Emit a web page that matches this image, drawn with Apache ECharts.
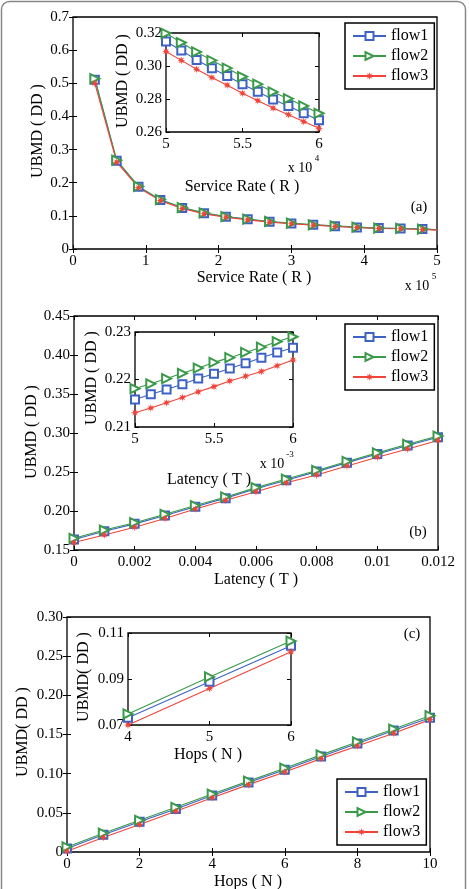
<!DOCTYPE html>
<html>
<head>
<meta charset="utf-8">
<script src="https://cdn.jsdelivr.net/npm/echarts@6/dist/echarts.min.js"></script>
<style>
  html, body { margin: 0; padding: 0; background: #fff; }
  #chart { width: 469px; height: 889px; }
</style>
</head>
<body>
<div id="chart"></div>
<script>
// (a) service rate, main plot (x in units of 1e5)
const rateX = [0.3, 0.6, 0.9, 1.2, 1.5, 1.8, 2.1, 2.4, 2.7, 3.0, 3.3, 3.6, 3.9, 4.2, 4.5, 4.8]
const rateFlow1 = [0.511, 0.266, 0.188, 0.148, 0.124, 0.108, 0.097, 0.090, 0.082, 0.077, 0.073, 0.069, 0.065, 0.063, 0.062, 0.060]
const rateFlow2 = [0.514, 0.268, 0.189, 0.149, 0.125, 0.109, 0.098, 0.090, 0.083, 0.078, 0.073, 0.070, 0.066, 0.063, 0.062, 0.060]
const rateFlow3 = [0.500, 0.262, 0.185, 0.146, 0.122, 0.106, 0.096, 0.088, 0.081, 0.076, 0.072, 0.068, 0.065, 0.062, 0.061, 0.059]
// line runs on to the right edge without a marker
const rateEndX = 5
const rateEnd = [0.058, 0.0585, 0.057]

// (a) inset (x in units of 1e4)
const rateInX = [5.0, 5.1, 5.2, 5.3, 5.4, 5.5, 5.6, 5.7, 5.8, 5.9, 6.0]
const rateInFlow1 = [0.3149, 0.3094, 0.3037, 0.2986, 0.2940, 0.2889, 0.2844, 0.2797, 0.2757, 0.2714, 0.2671]
const rateInFlow2 = [0.3198, 0.3142, 0.3085, 0.3034, 0.2987, 0.2936, 0.2890, 0.2843, 0.2802, 0.2758, 0.2713]
const rateInFlow3 = [0.3088, 0.3034, 0.2980, 0.2930, 0.2884, 0.2835, 0.2790, 0.2745, 0.2705, 0.2663, 0.2622]

// (b) latency
const latX = [0, 0.001, 0.002, 0.003, 0.004, 0.005, 0.006, 0.007, 0.008, 0.009, 0.010, 0.011, 0.012]
const latFlow1 = [0.1635, 0.1740, 0.1835, 0.1943, 0.2055, 0.2165, 0.2285, 0.2395, 0.2505, 0.2620, 0.2730, 0.2840, 0.2945]
const latFlow2 = [0.1650, 0.1756, 0.1850, 0.1958, 0.2070, 0.2180, 0.2300, 0.2410, 0.2520, 0.2635, 0.2745, 0.2855, 0.2960]
const latFlow3 = [0.1595, 0.1692, 0.1792, 0.1905, 0.2025, 0.2137, 0.2248, 0.2363, 0.2462, 0.2577, 0.2690, 0.2795, 0.2905]

// (b) inset (x in units of 1e-3)
const latInX = [5.0, 5.1, 5.2, 5.3, 5.4, 5.5, 5.6, 5.7, 5.8, 5.9, 6.0]
const latInFlow1 = [0.2158, 0.2169, 0.2179, 0.2190, 0.2202, 0.2212, 0.2223, 0.2234, 0.2246, 0.2257, 0.2267]
const latInFlow2 = [0.2181, 0.2191, 0.2202, 0.2213, 0.2224, 0.2236, 0.2246, 0.2257, 0.2268, 0.2280, 0.2290]
const latInFlow3 = [0.2130, 0.2140, 0.2151, 0.2162, 0.2174, 0.2185, 0.2197, 0.2207, 0.2217, 0.2229, 0.2241]

// (c) hops
const hopX = [0, 1, 2, 3, 4, 5, 6, 7, 8, 9, 10]
const hopFlow1 = [0.0045, 0.0220, 0.0385, 0.0550, 0.0722, 0.0886, 0.1050, 0.1220, 0.1385, 0.1550, 0.1715]
const hopFlow2 = [0.0065, 0.0240, 0.0405, 0.0570, 0.0740, 0.0905, 0.1070, 0.1240, 0.1405, 0.1570, 0.1740]
const hopFlow3 = [0.0010, 0.0185, 0.0350, 0.0520, 0.0692, 0.0860, 0.1020, 0.1192, 0.1353, 0.1515, 0.1690]

// (c) inset
const hopInX = [4, 5, 6]
const hopInFlow1 = [0.0732, 0.0888, 0.1045]
const hopInFlow2 = [0.0748, 0.0909, 0.1065]
const hopInFlow3 = [0.0700, 0.0859, 0.1018]

const flowNames = ['flow1', 'flow2', 'flow3']

const FONT = 'Liberation Serif'
const colors = ['#3d62c4', '#3a9a4a', '#f0443a']

// 8 point asterisk for flow3
const star = (() => {
  let p = 'path://'
  for (let i = 0; i < 16; i++) {
    const r = i % 2 ? 0.42 : 1
    const a = Math.PI * i / 8
    p += (i ? 'L' : 'M') + (r * Math.sin(a)).toFixed(3) + ',' + (-r * Math.cos(a)).toFixed(3) + ' '
  }
  return p + 'Z'
})()
const marks = [
  { symbol: 'emptyRect', rotate: 0, size: 8 },
  { symbol: 'emptyTriangle', rotate: -90, size: 9 },
  { symbol: star, rotate: 0, size: 8 }
]

const grids = []
const xAxis = []
const yAxis = []
const series = []

function addPanel (box, xa, ya) {
  const gi = grids.length
  grids.push({
    left: box[0], top: box[1], width: box[2], height: box[3],
    show: true, borderColor: '#000', borderWidth: 1.3, backgroundColor: '#fff',
    containLabel: false
  })
  const common = {
    type: 'value',
    gridIndex: gi,
    axisLine: { show: false },
    splitLine: { show: false },
    axisTick: { inside: true, length: 4, lineStyle: { color: '#000', width: 1 } }
  }
  const lab = (fmt, margin) => ({
    color: '#000', fontFamily: FONT, fontSize: 15, margin,
    showMinLabel: true, showMaxLabel: true, formatter: fmt
  })
  xAxis.push(Object.assign({}, common, {
    position: 'bottom', min: xa.min, max: xa.max, interval: xa.interval,
    axisLabel: lab(xa.fmt, 5)
  }))
  xAxis.push(Object.assign({}, common, {
    position: 'top', min: xa.min, max: xa.max, interval: xa.interval,
    axisLabel: { show: false }
  }))
  yAxis.push(Object.assign({}, common, {
    position: 'left', min: ya.min, max: ya.max, interval: ya.interval,
    axisLabel: lab(ya.fmt, 4)
  }))
  yAxis.push(Object.assign({}, common, {
    position: 'right', min: ya.min, max: ya.max, interval: ya.interval,
    axisLabel: { show: false }
  }))
  return gi
}

function addLines (gi, xs, flows, tail) {
  flows.forEach((vals, k) => {
    const data = xs.map((x, i) => [x, vals[i]])
    if (tail) data.push({ value: [tail.x, tail.y[k]], symbol: 'none' })
    series.push({
      name: flowNames[k],
      type: 'line',
      xAxisIndex: gi * 2,
      yAxisIndex: gi * 2,
      data,
      symbol: marks[k].symbol,
      symbolRotate: marks[k].rotate,
      symbolSize: marks[k].size,
      showAllSymbol: true,
      lineStyle: { color: colors[k], width: 1.1 },
      itemStyle: { color: colors[k], borderWidth: 1.1 },
      animation: false,
      z: 3 + gi
    })
  })
}

const f2 = v => v.toFixed(2)
const f2z = v => (v === 0 ? '0' : v.toFixed(2))
const plain = v => String(+v.toFixed(4))

// panel (a)
let g = addPanel([73, 17, 364, 232], { min: 0, max: 5, interval: 1, fmt: plain }, { min: 0, max: 0.7, interval: 0.1, fmt: plain })
addLines(g, rateX, [rateFlow1, rateFlow2, rateFlow3], { x: rateEndX, y: rateEnd })
g = addPanel([166, 33, 153, 99], { min: 5, max: 6, interval: 0.5, fmt: plain }, { min: 0.26, max: 0.32, interval: 0.02, fmt: f2 })
addLines(g, rateInX, [rateInFlow1, rateInFlow2, rateInFlow3])

// panel (b)
g = addPanel([74, 316, 364, 234], { min: 0, max: 0.012, interval: 0.002, fmt: plain }, { min: 0.15, max: 0.45, interval: 0.05, fmt: f2 })
addLines(g, latX, [latFlow1, latFlow2, latFlow3])
g = addPanel([135, 332, 158, 95], { min: 5, max: 6, interval: 0.5, fmt: plain }, { min: 0.21, max: 0.23, interval: 0.01, fmt: f2 })
addLines(g, latInX, [latInFlow1, latInFlow2, latInFlow3])

// panel (c)
g = addPanel([67, 617, 363, 235], { min: 0, max: 10, interval: 2, fmt: plain }, { min: 0, max: 0.3, interval: 0.05, fmt: f2z })
addLines(g, hopX, [hopFlow1, hopFlow2, hopFlow3])
g = addPanel([128, 633, 163, 92], { min: 4, max: 6, interval: 1, fmt: plain }, { min: 0.07, max: 0.11, interval: 0.02, fmt: f2 })
addLines(g, hopInX, [hopInFlow1, hopInFlow2, hopInFlow3])

function legendAt (left, top) {
  return {
    left, top,
    orient: 'vertical',
    data: flowNames,
    backgroundColor: '#fff',
    borderColor: '#000',
    borderWidth: 1.5,
    borderRadius: 0,
    padding: [5, 6, 5, 7],
    itemWidth: 33,
    itemHeight: 10,
    itemGap: 4,
    selectedMode: false,
    textStyle: { color: '#000', fontFamily: FONT, fontSize: 16 },
    z: 20
  }
}

function txt (x, y, text, size, rot) {
  return {
    type: 'text', x, y, rotation: rot ? Math.PI / 2 : 0, z: 30,
    style: { text, fill: '#000', fontFamily: FONT, fontSize: size, textAlign: 'center', textVerticalAlign: 'middle' }
  }
}

const graphics = [
  { type: 'rect', shape: { x: 1.5, y: 1.5, width: 464, height: 905, r: 8 }, style: { fill: 'none', stroke: '#888', lineWidth: 1.5 }, z: 0 },
  // (a)
  txt(254, 278, 'Service Rate ( R )', 16),
  txt(38, 131, 'UBMD ( DD )', 16, true),
  txt(417, 286, 'x 10', 14), txt(434, 277, '5', 9),
  txt(242, 187, 'Service Rate ( R )', 16),
  txt(123, 81, 'UBMD ( DD )', 16, true),
  txt(300, 168, 'x 10', 14), txt(317, 159, '4', 9),
  txt(419, 207, '(a)', 15),
  // (b)
  txt(256, 580, 'Latency ( T )', 16),
  txt(32, 432, 'UBMD ( DD )', 16, true),
  txt(209, 480, 'Latency ( T )', 16),
  txt(92, 378, 'UBMD ( DD )', 16, true),
  txt(272, 464, 'x 10', 14), txt(290, 455, '-3', 9),
  txt(418, 532, '(b)', 15),
  // (c)
  txt(248, 882, 'Hops ( N )', 16),
  txt(23, 732, 'UBMD( DD )', 16, true),
  txt(208, 755, 'Hops ( N )', 16),
  txt(84, 677, 'UBMD( DD )', 16, true),
  txt(412, 634, '(c)', 15)
]

const chart = echarts.init(document.getElementById('chart'), null, { renderer: 'canvas' })
chart.setOption({
  animation: false,
  backgroundColor: '#fff',
  grid: grids,
  xAxis,
  yAxis,
  series,
  legend: [legendAt(345, 23), legendAt(345, 324), legendAt(337, 779)],
  graphic: graphics
})
</script>
</body>
</html>
